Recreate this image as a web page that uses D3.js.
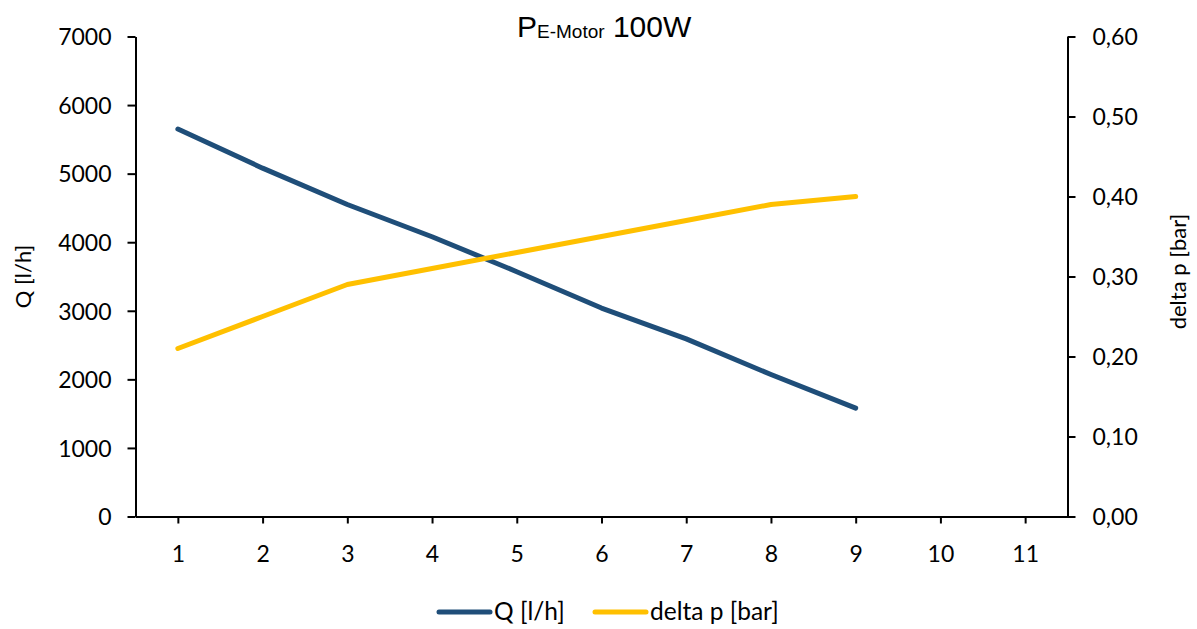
<!DOCTYPE html>
<html>
<head>
<meta charset="utf-8">
<script src="https://cdn.jsdelivr.net/npm/d3@7"></script>
<style>
  html, body { margin: 0; padding: 0; background: #fff; }
  svg { display: block; }
  text { fill: #000; }
</style>
</head>
<body>
<svg id="chart" width="1197" height="629"></svg>
<script>
// ---- Data ----
const categories = [1, 2, 3, 4, 5, 6, 7, 8, 9, 10, 11];
const flowQ = [5650, 5080, 4550, 4080, 3570, 3040, 2590, 2070, 1580]; // Q [l/h], categories 1..9
const deltaP = [0.21, 0.25, 0.29, 0.31, 0.33, 0.35, 0.37, 0.39, 0.40]; // delta p [bar]
const leftTicks = [0, 1000, 2000, 3000, 4000, 5000, 6000, 7000];
const rightTicks = [0, 0.1, 0.2, 0.3, 0.4, 0.5, 0.6];
const seriesNames = ["Q [l/h]", "delta p [bar]"];
const seriesColors = ["#1F4E79", "#FFC000"];

// ---- Layout ----
const svg = d3.select("#chart");
const plot = { left: 135.5, right: 1067.5, top: 36.5, bottom: 516.5 };
const tickFont = "Lato, 'Open Sans', sans-serif";

const x = d3.scalePoint().domain(categories).range([plot.left, plot.right]).padding(0.5);
const yL = d3.scaleLinear().domain([0, 7000]).range([plot.bottom, plot.top]);
const yR = d3.scaleLinear().domain([0, 0.6]).range([plot.bottom, plot.top]);

// ---- Axes ----
const xAxis = svg.append("g")
  .attr("transform", `translate(0,${plot.bottom})`)
  .call(d3.axisBottom(x).tickSizeInner(7).tickSizeOuter(0).tickPadding(22));
const lAxis = svg.append("g")
  .attr("transform", `translate(${plot.left},0)`)
  .call(d3.axisLeft(yL).tickValues(leftTicks).tickSizeInner(8).tickSizeOuter(0).tickPadding(16)
    .tickFormat(d3.format("d")));
const rAxis = svg.append("g")
  .attr("transform", `translate(${plot.right},0)`)
  .call(d3.axisRight(yR).tickValues(rightTicks).tickSizeInner(8).tickSizeOuter(0).tickPadding(17)
    .tickFormat(d => d.toFixed(2).replace(".", ",")));

[xAxis, lAxis, rAxis].forEach(g => {
  g.selectAll("path.domain").attr("stroke", "#000").attr("stroke-width", 2);
  g.selectAll(".tick line").attr("stroke", "#000").attr("stroke-width", 2);
  g.selectAll(".tick text").attr("font-family", tickFont).attr("font-size", 23).attr("fill", "#000");
});
lAxis.selectAll(".tick text").attr("dy", "0.36em");
rAxis.selectAll(".tick text").attr("dy", "0.36em");

// ---- Lines ----
const lineQ = d3.line().x((d, i) => x(categories[i])).y(d => yL(d));
const lineP = d3.line().x((d, i) => x(categories[i])).y(d => yR(d));

svg.append("path").datum(flowQ)
  .attr("d", lineQ).attr("fill", "none")
  .attr("stroke", seriesColors[0]).attr("stroke-width", 5)
  .attr("stroke-linejoin", "round").attr("stroke-linecap", "round");
svg.append("path").datum(deltaP)
  .attr("d", lineP).attr("fill", "none")
  .attr("stroke", seriesColors[1]).attr("stroke-width", 5)
  .attr("stroke-linejoin", "round").attr("stroke-linecap", "round");

// ---- Title ----
const title = svg.append("text")
  .attr("x", 517).attr("y", 37)
  .attr("font-family", "'Liberation Sans', Arial, sans-serif")
  .attr("font-size", 30);
title.append("tspan").text("P");
title.append("tspan").attr("font-size", 19).attr("dy", 1).text("E-Motor");
title.append("tspan").attr("dy", -1).text(" 100W");

// ---- Axis titles ----
svg.append("text")
  .attr("transform", `translate(31,${(plot.top + plot.bottom) / 2}) rotate(-90)`)
  .attr("text-anchor", "middle")
  .attr("font-family", tickFont).attr("font-size", 22)
  .text(seriesNames[0]);
svg.append("text")
  .attr("transform", `translate(1186,${(plot.top + plot.bottom) / 2 - 5}) rotate(-90)`)
  .attr("text-anchor", "middle")
  .attr("font-family", tickFont).attr("font-size", 22)
  .text(seriesNames[1]);

// ---- Legend ----
const legendItems = [
  { name: seriesNames[0], color: seriesColors[0], x: 439 },
  { name: seriesNames[1], color: seriesColors[1], x: 595 }
];
const lg = svg.append("g");
legendItems.forEach(it => {
  lg.append("line")
    .attr("x1", it.x).attr("x2", it.x + 51).attr("y1", 612).attr("y2", 612)
    .attr("stroke", it.color).attr("stroke-width", 5).attr("stroke-linecap", "round");
  lg.append("text")
    .attr("x", it.x + 55).attr("y", 620)
    .attr("font-family", tickFont).attr("font-size", 24.5)
    .text(it.name);
});
</script>
</body>
</html>
